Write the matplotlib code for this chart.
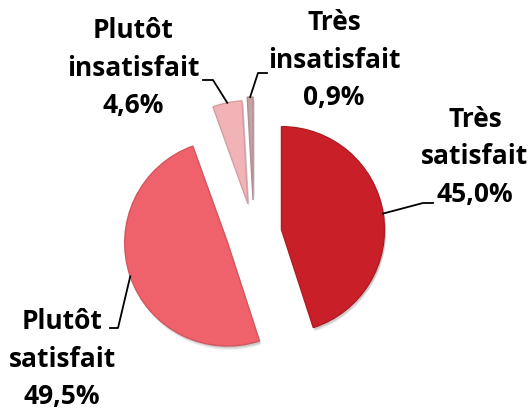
import numpy as np
import matplotlib
matplotlib.use("Agg")
import matplotlib.pyplot as plt
from matplotlib.patches import Wedge
from matplotlib.colors import to_rgb

labels = ["Très\nsatisfait", "Plutôt\nsatisfait", "Plutôt\ninsatisfait", "Très\ninsatisfait"]
values = [45.0, 49.5, 4.6, 0.9]
pct_labels = ["45,0%", "49,5%", "4,6%", "0,9%"]
colors = ["#C91F28", "#F0626B", "#F2B3B7", "#C9A2A6"]

W, H = 531, 415
fig = plt.figure(figsize=(W / 100, H / 100), dpi=100)
ax = fig.add_axes([0, 0, 1, 1])

cx, cy = 254, H - 234
R = 103
explode = [0.27 * R, 0.27 * R, 0.30 * R, 0.33 * R]

def darker(c, f=0.88):
    r, g, b = to_rgb(c)
    return (r * f, g * f, b * f)

wedges, _ = ax.pie(values, colors=colors, startangle=90, counterclock=False,
                   radius=R, center=(cx, cy), explode=explode,
                   wedgeprops=dict(linewidth=1.0), frame=True)
for w, c in zip(wedges, colors):
    w.set_edgecolor(darker(c))
    w.set_zorder(3)
    # soft shadow
    for k, a in [(4, 0.05), (3, 0.07), (2, 0.09)]:
        sh = Wedge((w.center[0] + 1.5, w.center[1] - k), w.r, w.theta1, w.theta2,
                   facecolor="#000000", edgecolor="none", alpha=a, zorder=1)
        ax.add_patch(sh)

ax.set_xlim(0, W)
ax.set_ylim(0, H)
ax.set_aspect("equal")
ax.axis("off")

text_pos = [(475, H - 157), (62, H - 359), (133, H - 68), (334, H - 60)]
elbows = [((423, H - 203), (433, H - 203)),
          ((118, H - 328), (110, H - 328)),
          ((213, H - 80), (203, H - 80)),
          ((258, H - 73), (267, H - 73))]

for w, lab, pct, tp, (e1, e2) in zip(wedges, labels, pct_labels, text_pos, elbows):
    ang = np.deg2rad((w.theta1 + w.theta2) / 2)
    px = w.center[0] + w.r * np.cos(ang)
    py = w.center[1] + w.r * np.sin(ang)
    ax.plot([px, e1[0], e2[0]], [py, e1[1], e2[1]], color="black", lw=1.3, zorder=5)
    ax.text(tp[0], tp[1], lab + "\n" + pct, ha="center", va="center",
            fontsize=19, fontweight="bold", family="Open Sans", linespacing=1.5,
            color="#000000")

fig.savefig("out.png", dpi=100)
